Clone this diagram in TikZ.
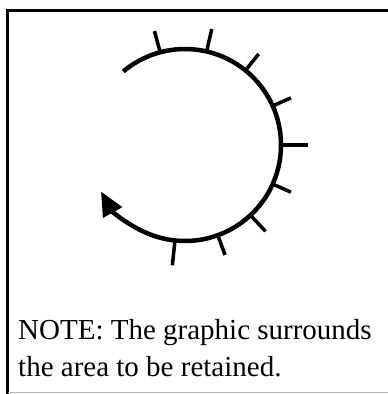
\documentclass[tikz,border=0pt]{standalone}
\usepackage{fontspec}
\setmainfont{Liberation Serif}
\usetikzlibrary{arrows.meta,calc}

\begin{document}
\begin{tikzpicture}[
  x=1pt, y=-1pt,
  frame/.style={line width=3pt, black},
  ring/.style={line width=4.5pt, black},
  tick/.style={line width=3.5pt, black},
  note/.style={anchor=north west, align=left, inner sep=0pt,
               font=\fontsize{29}{37}\selectfont}
]
\useasboundingbox (0,0) rectangle (388,394);

% Frame
\draw[frame] (7.5,394) -- (7.5,10.5) -- (388,10.5);
\draw[gray!60, line width=0.8pt] (7.5,392.5) -- (388,392.5);

% Centre of the ring
\coordinate (c) at (185,145);

% Ring with arrow
\draw[ring, -{Triangle[length=24pt, width=21pt]}]
  ($(c)+(130:96 and -96)$) arc[start angle=130, end angle=-151, x radius=96, y radius=-96];

% Ticks
\foreach \a/\l in {105/22, 77/23, 51/21, 24/20, 0/27, -24/20, -47/22, -70/21, -96/25}
  \draw[tick] ($(c)+(\a:96 and -96)$) -- ($(c)+(\a:{96+\l} and {-96-\l})$);

% Note
\node[note] (txt) at (18,319) {NOTE: The graphic surrounds\\the area to be retained.};

\end{tikzpicture}
\end{document}
